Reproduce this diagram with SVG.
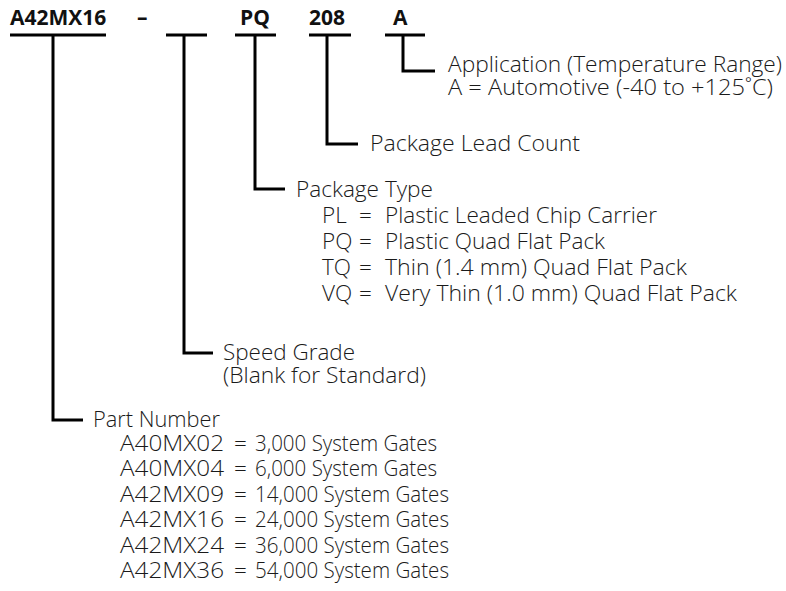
<svg xmlns="http://www.w3.org/2000/svg" width="786" height="591" viewBox="0 0 786 591">
<style>
.t{font-family:"Open Sans","Noto Sans","Liberation Sans",sans-serif;font-size:22.5px;font-weight:300;fill:#1a1a1a}
.h{font-family:"Open Sans","Noto Sans","Liberation Sans",sans-serif;font-size:21px;font-weight:bold;fill:#111}
.l{stroke:#000;stroke-width:3;fill:none}
</style>
<rect width="786" height="591" fill="#fff"/>
<g id="header">
<text class="h" x="10" y="25">A42MX16</text>
<text class="h" x="137" y="25">–</text>
<text class="h" x="240" y="25">PQ</text>
<text class="h" x="309" y="25">208</text>
<text class="h" x="393" y="25">A</text>
</g>
<g id="connectors">
<path class="l" d="M10 35H106M53 35V420H83"/>
<path class="l" d="M166 35H207M184 35V353H213"/>
<path class="l" d="M235 35H276M255 35V189H285"/>
<path class="l" d="M309 35H351M327 35V144H358"/>
<path class="l" d="M385 35H425M403 35V71H435"/>
</g>
<g id="application">
<text class="t" x="448" y="72" textLength="334" lengthAdjust="spacingAndGlyphs">Application (Temperature Range)</text>
<text class="t" x="448" y="95" textLength="325" lengthAdjust="spacingAndGlyphs">A = Automotive (-40 to +125˚C)</text>
</g>
<g id="leadcount">
<text class="t" x="370" y="151" textLength="210" lengthAdjust="spacingAndGlyphs">Package Lead Count</text>
</g>
<g id="packagetype">
<text class="t" x="296" y="197" textLength="137" lengthAdjust="spacingAndGlyphs">Package Type</text>
<text class="t" x="322" y="223">PL</text><text class="t" x="359" y="223">=</text><text class="t" x="385" y="223" textLength="272" lengthAdjust="spacingAndGlyphs">Plastic Leaded Chip Carrier</text>
<text class="t" x="322" y="249">PQ</text><text class="t" x="359" y="249">=</text><text class="t" x="385" y="249" textLength="220" lengthAdjust="spacingAndGlyphs">Plastic Quad Flat Pack</text>
<text class="t" x="322" y="275">TQ</text><text class="t" x="359" y="275">=</text><text class="t" x="385" y="275" textLength="302" lengthAdjust="spacingAndGlyphs">Thin (1.4 mm) Quad Flat Pack</text>
<text class="t" x="322" y="301">VQ</text><text class="t" x="359" y="301">=</text><text class="t" x="385" y="301" textLength="352" lengthAdjust="spacingAndGlyphs">Very Thin (1.0 mm) Quad Flat Pack</text>
</g>
<g id="speedgrade">
<text class="t" x="223" y="360" textLength="132" lengthAdjust="spacingAndGlyphs">Speed Grade</text>
<text class="t" x="223" y="383" textLength="203" lengthAdjust="spacingAndGlyphs">(Blank for Standard)</text>
</g>
<g id="partnumber">
<text class="t" x="93" y="427" textLength="127" lengthAdjust="spacingAndGlyphs">Part Number</text>
<text class="t" x="120" y="451" textLength="104" lengthAdjust="spacingAndGlyphs">A40MX02</text><text class="t" x="234" y="451">=</text><text class="t" x="255" y="451" textLength="182" lengthAdjust="spacingAndGlyphs">3,000 System Gates</text>
<text class="t" x="120" y="476" textLength="104" lengthAdjust="spacingAndGlyphs">A40MX04</text><text class="t" x="234" y="476">=</text><text class="t" x="255" y="476" textLength="182" lengthAdjust="spacingAndGlyphs">6,000 System Gates</text>
<text class="t" x="120" y="502" textLength="104" lengthAdjust="spacingAndGlyphs">A42MX09</text><text class="t" x="234" y="502">=</text><text class="t" x="255" y="502" textLength="194" lengthAdjust="spacingAndGlyphs">14,000 System Gates</text>
<text class="t" x="120" y="527" textLength="104" lengthAdjust="spacingAndGlyphs">A42MX16</text><text class="t" x="234" y="527">=</text><text class="t" x="255" y="527" textLength="194" lengthAdjust="spacingAndGlyphs">24,000 System Gates</text>
<text class="t" x="120" y="553" textLength="104" lengthAdjust="spacingAndGlyphs">A42MX24</text><text class="t" x="234" y="553">=</text><text class="t" x="255" y="553" textLength="194" lengthAdjust="spacingAndGlyphs">36,000 System Gates</text>
<text class="t" x="120" y="578" textLength="104" lengthAdjust="spacingAndGlyphs">A42MX36</text><text class="t" x="234" y="578">=</text><text class="t" x="255" y="578" textLength="194" lengthAdjust="spacingAndGlyphs">54,000 System Gates</text>
</g>
</svg>
